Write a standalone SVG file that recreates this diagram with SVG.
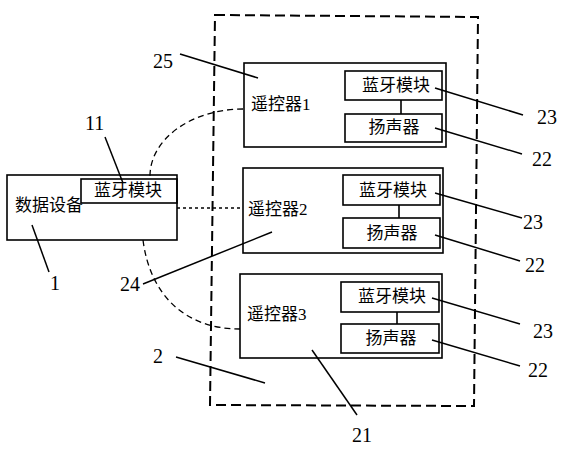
<svg xmlns="http://www.w3.org/2000/svg" width="566" height="450" viewBox="0 0 566 450">
<style>
.box{fill:none;stroke:#000;stroke-width:1.6}
.ld{fill:none;stroke:#000;stroke-width:1.5}
.cj{font-family:"Liberation Serif","Noto Sans CJK SC",serif;font-size:17px;fill:#000}
.num{font-family:"Liberation Serif",serif;font-size:20px;fill:#000}
.dash{fill:none;stroke:#000;stroke-width:1.3;stroke-dasharray:6 4}
</style>
<rect width="566" height="450" fill="#fff"/>
<g id="system2">
<path d="M215,15 L478,17 L474,406 L210,405 Z" fill="none" stroke="#000" stroke-width="2" stroke-dasharray="10 5"/>
</g>
<g id="device1">
<rect class="box" x="7" y="175" width="170" height="65"/>
<rect class="box" x="81" y="179" width="96" height="24"/>
<text class="cj" x="15" y="211">数据设备</text>
<text class="cj" x="128" y="196" text-anchor="middle">蓝牙模块</text>
</g>
<g id="remote1">
<rect class="box" x="244" y="63" width="202" height="84"/>
<rect class="box" x="345" y="71" width="97" height="29"/>
<rect class="box" x="345" y="114" width="97" height="28"/>
<line class="box" x1="401" y1="100" x2="401" y2="114"/>
<text class="cj" x="251" y="110">遥控器1</text>
<text class="cj" x="396" y="91" text-anchor="middle">蓝牙模块</text>
<text class="cj" x="394" y="133" text-anchor="middle">扬声器</text>
</g>
<g id="remote2">
<rect class="box" x="243" y="168" width="200" height="85"/>
<rect class="box" x="343" y="175" width="97" height="30"/>
<rect class="box" x="343" y="218" width="97" height="30"/>
<line class="box" x1="399" y1="205" x2="399" y2="218"/>
<text class="cj" x="248" y="215">遥控器2</text>
<text class="cj" x="393" y="196" text-anchor="middle">蓝牙模块</text>
<text class="cj" x="392" y="239" text-anchor="middle">扬声器</text>
</g>
<g id="remote3">
<rect class="box" x="240" y="274" width="202" height="84"/>
<rect class="box" x="341" y="282" width="98" height="30"/>
<rect class="box" x="341" y="324" width="98" height="29"/>
<line class="box" x1="397" y1="312" x2="397" y2="324"/>
<text class="cj" x="247" y="320">遥控器3</text>
<text class="cj" x="392" y="302" text-anchor="middle">蓝牙模块</text>
<text class="cj" x="391" y="344" text-anchor="middle">扬声器</text>
</g>
<g id="connectors">
<path class="dash" d="M243,109 A93,67 0 0 0 150,176"/>
<path class="dash" d="M143,240 C150,295 185,329 240,329"/>
<line x1="177" y1="208" x2="243" y2="208" stroke="#000" stroke-width="1.3" stroke-dasharray="3 3"/>
<line class="ld" x1="105" y1="137" x2="123" y2="183"/>
<line class="ld" x1="32" y1="225" x2="49" y2="272"/>
<line class="ld" x1="272" y1="232" x2="143" y2="284"/>
<line class="ld" x1="180" y1="54" x2="258" y2="78"/>
<line class="ld" x1="176" y1="357" x2="265" y2="383"/>
<line class="ld" x1="312" y1="350" x2="357" y2="415"/>
<line class="ld" x1="435" y1="88" x2="523" y2="115"/>
<line class="ld" x1="435" y1="128" x2="522" y2="154"/>
<line class="ld" x1="435" y1="193" x2="522" y2="218"/>
<line class="ld" x1="435" y1="235" x2="520" y2="261"/>
<line class="ld" x1="432" y1="298" x2="520" y2="324"/>
<line class="ld" x1="432" y1="340" x2="520" y2="366"/>
</g>
<g id="labels">
<text class="num" x="85" y="130">11</text>
<text class="num" x="50" y="290">1</text>
<text class="num" x="120" y="291">24</text>
<text class="num" x="153" y="68">25</text>
<text class="num" x="153" y="363">2</text>
<text class="num" x="352" y="442">21</text>
<text class="num" x="537" y="124">23</text>
<text class="num" x="532" y="166">22</text>
<text class="num" x="523" y="229">23</text>
<text class="num" x="525" y="272">22</text>
<text class="num" x="533" y="338">23</text>
<text class="num" x="528" y="377">22</text>
</g>
</svg>
